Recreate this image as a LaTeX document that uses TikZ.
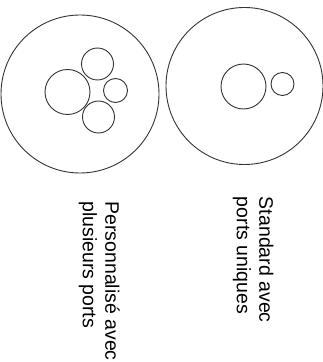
\documentclass[tikz,border=0pt]{standalone}
\usepackage{fontspec}
\setmainfont{Liberation Sans}
\usepackage{tikz}

\begin{document}
\begin{tikzpicture}[x=1pt,y=1pt,
  ring/.style={draw=black!80,line width=0.9pt},
  legend/.style={rotate=-90,anchor=north west,align=left,inner sep=0pt,
    font=\fontsize{19.5}{22.5}\selectfont}]
\useasboundingbox (0,0) rectangle (322,362);
% left disc, several ports
\draw[ring] (80,268) circle (79);
\draw[ring] (67.5,270) circle (22.5);
\draw[ring] (97.5,298) circle (16);
\draw[ring] (115.5,271.5) circle (12);
\draw[ring] (98.5,245) circle (16);
% right disc, single ports
\draw[ring] (244.5,276) circle (78.5);
\draw[ring] (243.5,275.5) circle (22.5);
\draw[ring] (282.5,278) circle (11.5);
% labels
\node[legend] (custom) at (120,160.8) {Personnalisé avec\\plusieurs ports};
\node[legend] (std) at (273.8,165.3) {Standard avec\\ports uniques};
\end{tikzpicture}
\end{document}
